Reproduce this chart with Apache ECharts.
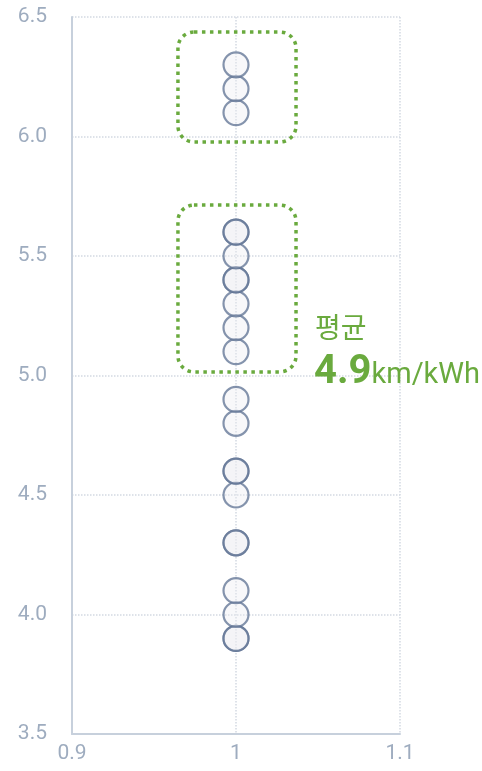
<!DOCTYPE html>
<html>
<head>
<meta charset="utf-8">
<script src="https://cdn.jsdelivr.net/npm/echarts@6/dist/echarts.min.js"></script>
<style>
html,body{margin:0;padding:0;background:#fff;}
#main{width:482px;height:771px;}
</style>
</head>
<body>
<div id="main"></div>
<script>
// 효율 데이터 (x는 모두 1)
var xValue = 1;
var effValues = [3.9, 3.9, 4.0, 4.1, 4.3, 4.3, 4.5, 4.6, 4.6, 4.8, 4.9,
                 5.1, 5.2, 5.3, 5.4, 5.4, 5.5, 5.6, 5.6, 6.1, 6.2, 6.3];
// 강조 박스 범위 [x1, x2, y1, y2]
var boxHigh = [0.9646, 1.0366, 6.437, 5.977];
var boxMid = [0.9646, 1.0366, 5.713, 5.015];
var avgLabel = '평균';
var avgValue = '4.9';
var avgUnit = 'km/kWh';

var green = '#6aaa3e';
var axisColor = '#9eacbf';

var chart = echarts.init(document.getElementById('main'));
var option = {
    animation: false,
    grid: {left: 72, right: 82, top: 17, bottom: 37},
    xAxis: {
        type: 'value',
        min: 0.9,
        max: 1.1,
        interval: 0.1,
        axisLine: {lineStyle: {color: '#c7d0dc', width: 2}},
        axisTick: {show: false},
        axisLabel: {
            color: axisColor,
            fontSize: 21,
            fontFamily: 'Roboto',
            margin: 9,
            formatter: function (v) { return String(Math.round(v * 10) / 10); }
        },
        splitLine: {show: true, lineStyle: {color: '#d3d9e2', type: 'dotted', width: 1.5}}
    },
    yAxis: {
        type: 'value',
        min: 3.5,
        max: 6.5,
        interval: 0.5,
        axisLine: {show: true, lineStyle: {color: '#c7d0dc', width: 2}},
        axisTick: {show: false},
        axisLabel: {
            color: axisColor,
            fontSize: 21,
            fontFamily: 'Roboto',
            margin: 25,
            formatter: function (v) { return v.toFixed(1); }
        },
        splitLine: {show: true, lineStyle: {color: '#d3d9e2', type: 'dotted', width: 1.5}}
    },
    series: [{
        type: 'scatter',
        symbolSize: 25,
        itemStyle: {
            color: 'rgba(236,236,240,0.45)',
            borderColor: 'rgba(98,117,150,0.97)',
            borderWidth: 2.2
        },
        data: effValues.map(function (v) { return [xValue, v]; })
    }]
};
chart.setOption(option);

function boxGraphic(b) {
    var p1 = chart.convertToPixel({gridIndex: 0}, [b[0], b[2]]);
    var p2 = chart.convertToPixel({gridIndex: 0}, [b[1], b[3]]);
    return {
        type: 'rect',
        shape: {x: p1[0], y: p1[1], width: p2[0] - p1[0], height: p2[1] - p1[1], r: 16},
        style: {fill: 'none', stroke: green, lineWidth: 3.5, lineDash: [3.5, 4.5]},
        z: 10
    };
}

chart.setOption({
    graphic: [
        boxGraphic(boxHigh),
        boxGraphic(boxMid),
        {
            type: 'text', left: 315, top: 313, z: 10,
            style: {text: avgLabel, fill: green, font: '28px "Noto Sans CJK KR"'}
        },
        {
            type: 'text', left: 314, top: 353, z: 10,
            style: {
                text: '{v|' + avgValue + '}{u|' + avgUnit + '}',
                rich: {
                    v: {fill: green, font: 'bold 40px Roboto'},
                    u: {fill: green, font: '29px Roboto', padding: [6, 0, 0, 0]}
                }
            }
        }
    ]
});
</script>
</body>
</html>
